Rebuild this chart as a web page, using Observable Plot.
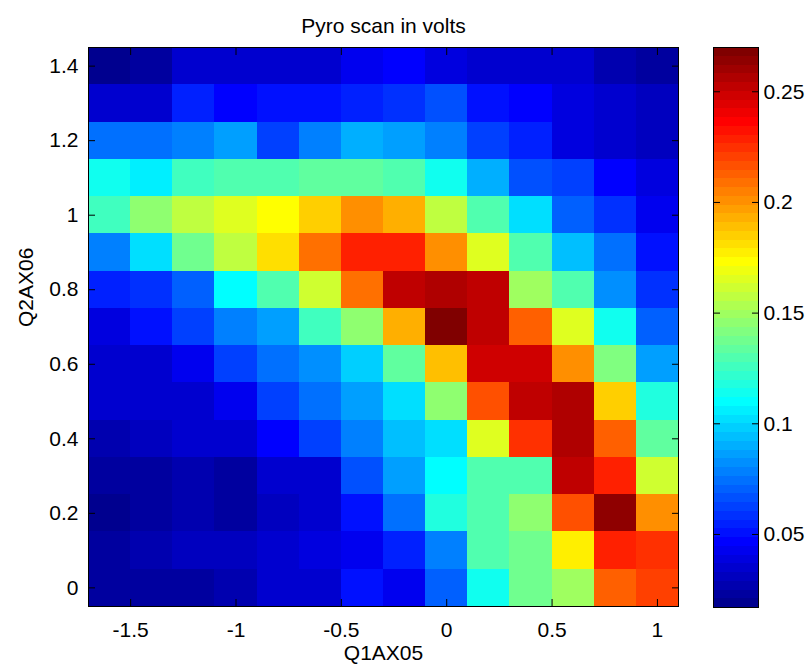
<!DOCTYPE html>
<html>
<head>
<meta charset="utf-8">
<script src="https://cdn.jsdelivr.net/npm/d3@7"></script>
<script src="https://cdn.jsdelivr.net/npm/@observablehq/plot@0.6"></script>
<style>
  html, body { margin: 0; padding: 0; background: #fff; }
  #chart { position: relative; width: 811px; height: 671px; overflow: hidden; background: #fff; }
  #chart svg { position: absolute; top: 0; }
</style>
</head>
<body>
<div id="chart"></div>
<script>
// ---- Texts ----
const title = "Pyro scan in volts";
const xLabel = "Q1AX05";
const yLabel = "Q2AX06";

// ---- Grid coordinates (cell centres) ----
const xCenters = [-1.6, -1.4, -1.2, -1.0, -0.8, -0.6, -0.4, -0.2, 0.0, 0.2, 0.4, 0.6, 0.8, 1.0];
const yCenters = [1.4, 1.3, 1.2, 1.1, 1.0, 0.9, 0.8, 0.7, 0.6, 0.5, 0.4, 0.3, 0.2, 0.1, 0.0];

// ---- Tick values ----
const xTicks = [-1.5, -1, -0.5, 0, 0.5, 1];
const yTicks = [0, 0.2, 0.4, 0.6, 0.8, 1, 1.2, 1.4];
const colorbarTicks = [0.05, 0.1, 0.15, 0.2, 0.25];

// ---- Pyro voltage, one row per yCenters entry (top row first) ----
const voltageRows = [
  [0.019, 0.023, 0.033, 0.033, 0.036, 0.036, 0.042, 0.045, 0.039, 0.036, 0.036, 0.033, 0.027, 0.023],
  [0.036, 0.036, 0.055, 0.045, 0.052, 0.052, 0.055, 0.058, 0.068, 0.052, 0.045, 0.039, 0.033, 0.030],
  [0.074, 0.074, 0.077, 0.087, 0.061, 0.080, 0.090, 0.087, 0.077, 0.064, 0.055, 0.039, 0.033, 0.030],
  [0.112, 0.106, 0.125, 0.128, 0.128, 0.134, 0.134, 0.131, 0.115, 0.090, 0.068, 0.061, 0.045, 0.039],
  [0.125, 0.144, 0.156, 0.166, 0.175, 0.185, 0.200, 0.191, 0.156, 0.128, 0.102, 0.071, 0.058, 0.042],
  [0.080, 0.102, 0.137, 0.156, 0.181, 0.207, 0.229, 0.229, 0.200, 0.166, 0.131, 0.096, 0.074, 0.052],
  [0.055, 0.058, 0.071, 0.109, 0.131, 0.163, 0.210, 0.251, 0.257, 0.251, 0.150, 0.128, 0.083, 0.058],
  [0.039, 0.049, 0.061, 0.077, 0.087, 0.125, 0.144, 0.194, 0.270, 0.254, 0.213, 0.166, 0.112, 0.071],
  [0.033, 0.036, 0.042, 0.064, 0.074, 0.083, 0.099, 0.134, 0.188, 0.250, 0.250, 0.200, 0.140, 0.087],
  [0.033, 0.033, 0.036, 0.042, 0.061, 0.074, 0.087, 0.102, 0.144, 0.216, 0.254, 0.256, 0.185, 0.118],
  [0.027, 0.030, 0.033, 0.036, 0.045, 0.064, 0.080, 0.096, 0.102, 0.166, 0.223, 0.257, 0.213, 0.134],
  [0.023, 0.023, 0.027, 0.023, 0.033, 0.036, 0.068, 0.087, 0.109, 0.131, 0.131, 0.254, 0.229, 0.163],
  [0.017, 0.023, 0.027, 0.023, 0.030, 0.036, 0.049, 0.074, 0.118, 0.131, 0.144, 0.216, 0.264, 0.200],
  [0.023, 0.027, 0.030, 0.030, 0.033, 0.039, 0.041, 0.055, 0.077, 0.131, 0.137, 0.178, 0.229, 0.223],
  [0.023, 0.023, 0.023, 0.027, 0.033, 0.033, 0.052, 0.042, 0.071, 0.112, 0.137, 0.150, 0.213, 0.219]
];

// ---- Derived table for the library ----
const cells = yCenters.flatMap((y, j) => xCenters.map((x, i) => ({x, y, v: voltageRows[j][i]})));
const dx = Math.abs(xCenters[1] - xCenters[0]);
const dy = Math.abs(yCenters[0] - yCenters[1]);
const [cmin, cmax] = d3.extent(cells, d => d.v);

// MATLAB-style 64-level jet colormap
function jet(t) {
  const i = Math.max(1, Math.min(64, Math.floor(t * 64) + 1));
  const u = i / 64;
  const c = v => Math.round(255 * Math.max(0, Math.min(1, v)));
  const r = Math.min(4 * u - 1.5, -4 * u + 4.5);
  const g = Math.min(4 * u - 0.5, -4 * u + 3.5);
  const b = Math.min(4 * u + 0.5, -4 * u + 2.5);
  return `rgb(${c(r)},${c(g)},${c(b)})`;
}
const colorScale = {type: "linear", domain: [cmin, cmax], interpolate: jet};
const font = "'Liberation Sans', Arial, Helvetica, sans-serif";
const baseStyle = {fontFamily: font, fontSize: "21px", color: "#000", background: "transparent", overflow: "visible"};
const fmt = d => String(d);
const blank = () => "";

const main = Plot.plot({
  width: 700,
  height: 671,
  marginLeft: 88,
  marginRight: 22,
  marginTop: 47,
  marginBottom: 65,
  style: baseStyle,
  x: {domain: [d3.min(xCenters) - dx / 2, d3.max(xCenters) + dx / 2], label: null},
  y: {domain: [d3.min(yCenters) - dy / 2, d3.max(yCenters) + dy / 2], label: null},
  color: colorScale,
  marks: [
    Plot.rect(cells, {
      x1: d => d.x - dx / 2, x2: d => d.x + dx / 2,
      y1: d => d.y - dy / 2, y2: d => d.y + dy / 2,
      fill: "v", shapeRendering: "crispEdges"
    }),
    Plot.frame({stroke: "#000", strokeWidth: 1}),
    Plot.axisX(xTicks, {anchor: "bottom", tickSize: -7, tickPadding: 23, tickFormat: fmt, label: null}),
    Plot.axisX(xTicks, {anchor: "top", tickSize: -7, tickFormat: blank, label: null}),
    Plot.axisY(yTicks, {anchor: "left", tickSize: -7, tickPadding: 17, tickFormat: fmt, label: null}),
    Plot.axisY(yTicks, {anchor: "right", tickSize: -7, tickFormat: blank, label: null}),
    Plot.text([title], {frameAnchor: "top", dy: -29, text: d => d, fill: "#000"}),
    Plot.text([xLabel], {frameAnchor: "bottom", dy: 53, text: d => d, fill: "#000"}),
    Plot.text([yLabel], {frameAnchor: "left", dx: -62, rotate: -90, text: d => d, fill: "#000"})
  ]
});
main.style.left = "0px";

const levels = d3.range(64).map(i => ({
  lo: cmin + i * (cmax - cmin) / 64,
  hi: cmin + (i + 1) * (cmax - cmin) / 64
}));

const bar = Plot.plot({
  width: 111,
  height: 671,
  marginLeft: 13,
  marginRight: 53,
  marginTop: 47,
  marginBottom: 64,
  style: baseStyle,
  y: {domain: [cmin, cmax], label: null},
  color: colorScale,
  marks: [
    Plot.rect(levels, {y1: "lo", y2: "hi", fill: d => (d.lo + d.hi) / 2, shapeRendering: "crispEdges"}),
    Plot.frame({stroke: "#000", strokeWidth: 1}),
    Plot.axisY(colorbarTicks, {anchor: "right", tickSize: -7, tickPadding: 12, tickFormat: fmt, label: null}),
    Plot.axisY(colorbarTicks, {anchor: "left", tickSize: -7, tickFormat: blank, label: null})
  ]
});
bar.style.left = "700px";

const chart = document.getElementById("chart");
chart.appendChild(main);
chart.appendChild(bar);
</script>
</body>
</html>
